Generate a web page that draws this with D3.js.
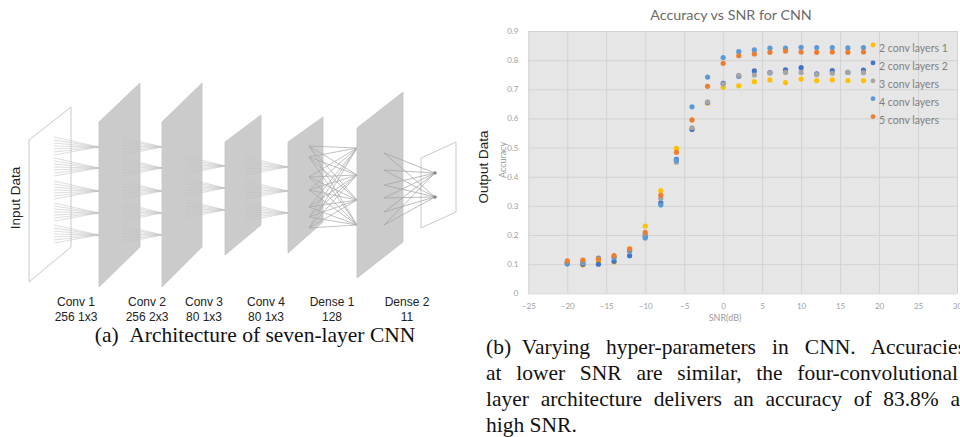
<!DOCTYPE html>
<html>
<head>
<meta charset="utf-8">
<script src="https://cdn.jsdelivr.net/npm/d3@7"></script>
<style>
  body { margin: 0; background: #fff; }
  svg { display: block; }
</style>
</head>
<body>
<svg id="fig" width="960" height="437"></svg>
<script>
// ---- data: accuracy vs SNR ----
const snr = [-20, -18, -16, -14, -12, -10, -8, -6, -4, -2, 0, 2, 4, 6, 8, 10, 12, 14, 16, 18];
const conv2a = [0.105, 0.097, 0.110, 0.107, 0.153, 0.231, 0.352, 0.497, 0.565, 0.652, 0.707, 0.712, 0.726, 0.732, 0.723, 0.735, 0.730, 0.732, 0.730, 0.730];
const conv2b = [0.101, 0.100, 0.100, 0.110, 0.129, 0.195, 0.310, 0.460, 0.562, 0.655, 0.720, 0.745, 0.763, 0.757, 0.767, 0.774, 0.753, 0.764, 0.758, 0.766];
const conv3 = [0.105, 0.105, 0.120, 0.125, 0.145, 0.203, 0.325, 0.450, 0.568, 0.656, 0.718, 0.748, 0.749, 0.756, 0.758, 0.758, 0.750, 0.755, 0.758, 0.757];
const conv4 = [0.104, 0.108, 0.121, 0.122, 0.145, 0.190, 0.303, 0.456, 0.640, 0.742, 0.809, 0.829, 0.835, 0.841, 0.841, 0.844, 0.843, 0.843, 0.842, 0.843];
const conv5 = [0.111, 0.114, 0.117, 0.129, 0.152, 0.209, 0.336, 0.484, 0.595, 0.710, 0.789, 0.815, 0.821, 0.827, 0.831, 0.828, 0.827, 0.828, 0.827, 0.828];
const seriesNames = ['2 conv layers 1', '2 conv layers 2', '3 conv layers', '4 conv layers', '5 conv layers'];
const xTicks = [-25, -20, -15, -10, -5, 0, 5, 10, 15, 20, 25, 30];
const yTicks = [0, 0.1, 0.2, 0.3, 0.4, 0.5, 0.6, 0.7, 0.8, 0.9];

// ---- data: layer labels of the architecture diagram ----
const layerNames = ['Conv 1', 'Conv 2', 'Conv 3', 'Conv 4', 'Dense 1', 'Dense 2'];
const layerSizes = ['256 1x3', '256 2x3', '80 1x3', '80 1x3', '128', '11'];

const svg = d3.select('#fig');
const sansFont = 'Liberation Sans, Arial, sans-serif';
const serifFont = 'Liberation Serif, Times New Roman, serif';

// ================= (a) architecture diagram =================
const diag = svg.append('g');

// panel geometry: left x, right x, left top/bottom, right top/bottom
const panels = [
  { x0: 29, x1: 71, lt: 140, lb: 282, rt: 107, rb: 247, fill: '#fff' },
  { x0: 99, x1: 140, lt: 122, lb: 287, rt: 83, rb: 247, fill: '#cbcbcb' },
  { x0: 162, x1: 202, lt: 122, lb: 287, rt: 83, rb: 247, fill: '#cbcbcb' },
  { x0: 225, x1: 261, lt: 142, lb: 255, rt: 115, rb: 225, fill: '#cbcbcb' },
  { x0: 288, x1: 323, lt: 142, lb: 253, rt: 117, rb: 222, fill: '#cbcbcb' },
  { x0: 357, x1: 403, lt: 128, lb: 278, rt: 92, rb: 242, fill: '#cbcbcb' },
  { x0: 421, x1: 456, lt: 158, lb: 228, rt: 142, rb: 212, fill: '#fff' }
];

const panelPath = p => `M${p.x0},${p.lt}L${p.x1},${p.rt}L${p.x1},${p.rb}L${p.x0},${p.lb}Z`;
const drawPanel = p => diag.append('path')
  .attr('d', panelPath(p))
  .attr('fill', p.fill)
  .attr('stroke', p.fill === '#fff' ? '#bdbdbd' : '#c4c4c4')
  .attr('stroke-width', 0.8);

const fanOffsets = [-10, -7, -4, -1, 2, 5, 8];
const drawFan = (sx, tx, targets) => {
  targets.forEach(ty => {
    fanOffsets.forEach(o => {
      diag.append('line')
        .attr('x1', sx).attr('y1', ty + o)
        .attr('x2', tx).attr('y2', ty)
        .attr('stroke', '#c0c0c0')
        .attr('stroke-width', 0.55);
    });
  });
};
const drawFull = (sx, sys, tx, tys, col) => {
  sys.forEach(sy => tys.forEach(ty => {
    diag.append('line')
      .attr('x1', sx).attr('y1', sy)
      .attr('x2', tx).attr('y2', ty)
      .attr('stroke', col)
      .attr('stroke-width', 0.7);
  }));
};

drawPanel(panels[0]);
drawFan(54, 99, [147, 168, 191, 213, 235]);
drawPanel(panels[1]);
drawFan(122, 162, [147, 168, 191, 213, 235]);
drawPanel(panels[2]);
drawFan(185, 225, [166, 188, 210]);
drawPanel(panels[3]);
drawFan(245, 288, [167, 191, 213]);
drawPanel(panels[4]);
drawFull(309, [146, 157, 177, 190, 207, 217, 228], 357, [148, 175, 200, 225], '#a8a8a8');
drawPanel(panels[5]);
drawPanel(panels[6]);
drawFull(384, [153, 170, 185, 198, 212, 225], 435, [173, 197], '#a0a0a0');
[173, 197].forEach(y => diag.append('circle')
  .attr('cx', 435).attr('cy', y).attr('r', 1.8).attr('fill', '#8a8a8a'));

diag.append('text')
  .attr('transform', 'translate(20,198) rotate(-90)')
  .attr('text-anchor', 'middle')
  .style('font-family', sansFont)
  .style('font-size', '13.5px')
  .attr('fill', '#222')
  .text('Input Data');

diag.append('text')
  .attr('transform', 'translate(488,167) rotate(-90)')
  .attr('text-anchor', 'middle')
  .style('font-family', sansFont)
  .style('font-size', '13.5px')
  .attr('fill', '#222')
  .text('Output Data');

const labelX = [76, 147, 204, 266, 332, 407];
layerNames.forEach((name, i) => {
  const t = diag.append('text')
    .attr('text-anchor', 'middle')
    .style('font-family', sansFont)
    .style('font-size', '12px')
    .attr('fill', '#222');
  t.append('tspan').attr('x', labelX[i]).attr('y', 306).text(name);
  t.append('tspan').attr('x', labelX[i]).attr('y', 320.5).text(layerSizes[i]);
});

svg.append('text')
  .attr('x', 255).attr('y', 342)
  .attr('text-anchor', 'middle')
  .style('font-family', serifFont)
  .style('font-size', '21.5px')
  .attr('fill', '#111')
  .text('(a)\u2002Architecture of seven-layer CNN');

// ================= (b) scatter chart =================
const x = d3.scaleLinear().domain([-25, 30]).range([528.3, 957]);
const y = d3.scaleLinear().domain([0, 0.9]).range([293.3, 31]);
const chartFont = 'Lato, "Open Sans", sans-serif';

const chart = svg.append('g');
chart.append('rect')
  .attr('x', x(-25)).attr('y', y(0.9))
  .attr('width', x(30) - x(-25)).attr('height', y(0) - y(0.9))
  .attr('fill', '#e7e6e7');

chart.append('g')
  .attr('transform', `translate(0,${y(0)})`)
  .call(d3.axisBottom(x).tickValues(xTicks).tickSize(-(y(0) - y(0.9))).tickFormat(''))
  .call(g => g.select('.domain').remove())
  .call(g => g.selectAll('line').attr('stroke', '#d3d3d3'));

chart.append('g')
  .attr('transform', `translate(${x(-25)},0)`)
  .call(d3.axisLeft(y).tickValues(yTicks).tickSize(-(x(30) - x(-25))).tickFormat(''))
  .call(g => g.select('.domain').remove())
  .call(g => g.selectAll('line').attr('stroke', '#d3d3d3'));

chart.append('g')
  .attr('transform', `translate(0,${y(0) + 7})`)
  .call(d3.axisBottom(x).tickValues(xTicks).tickSize(0).tickFormat(d3.format('d')))
  .call(g => g.select('.domain').remove())
  .call(g => g.selectAll('text')
    .style('font-family', chartFont).style('font-size', '8px').attr('fill', '#a0a0a0'));

chart.append('g')
  .attr('transform', `translate(${x(-25) - 7},0)`)
  .call(d3.axisLeft(y).tickValues(yTicks).tickSize(0).tickFormat(d => d === 0 ? '0' : d3.format('.1f')(d)))
  .call(g => g.select('.domain').remove())
  .call(g => g.selectAll('text')
    .style('font-family', chartFont).style('font-size', '8px').attr('fill', '#a0a0a0'));

chart.append('text')
  .attr('x', 731).attr('y', 20)
  .attr('text-anchor', 'middle')
  .style('font-family', chartFont).style('font-size', '14.3px')
  .attr('fill', '#6b6b6b')
  .text('Accuracy vs SNR for CNN');

chart.append('text')
  .attr('x', 725).attr('y', 321)
  .attr('text-anchor', 'middle')
  .style('font-family', chartFont).style('font-size', '9px')
  .attr('fill', '#9a9a9a')
  .text('SNR(dB)');

chart.append('text')
  .attr('transform', 'translate(506,160) rotate(-90)')
  .attr('text-anchor', 'middle')
  .style('font-family', chartFont).style('font-size', '9px')
  .attr('fill', '#9a9a9a')
  .text('Accuracy');

const colors = ['#FFC000', '#4472C4', '#A5A5A5', '#5B9BD5', '#ED7D31'];
const allSeries = [conv2a, conv2b, conv3, conv4, conv5];

allSeries.forEach((vals, si) => {
  chart.append('g').selectAll('circle')
    .data(vals)
    .enter().append('circle')
    .attr('cx', (d, i) => x(snr[i]))
    .attr('cy', d => y(d))
    .attr('r', 2.6)
    .attr('fill', colors[si]);
});

const legend = chart.append('g').attr('transform', 'translate(873,45)');
seriesNames.forEach((name, i) => {
  const row = legend.append('g').attr('transform', `translate(0,${i * 17.9})`);
  row.append('circle').attr('cx', 0).attr('cy', 0).attr('r', 2.4).attr('fill', colors[i]);
  row.append('text')
    .attr('x', 6).attr('y', 7)
    .style('font-family', chartFont).style('font-size', '10.5px')
    .attr('fill', '#7f7f7f')
    .text(name);
});

// caption (b), justified; the column runs a little past the right edge
const capLines = [
  { text: '(b)\u2002Varying hyper-parameters in CNN. Accuracies', right: 966 },
  { text: 'at lower SNR are similar, the four-convolutional', right: 958 },
  { text: 'layer architecture delivers an accuracy of 83.8% at', right: 966 },
  { text: 'high SNR.', right: null }
];
capLines.forEach((ln, i) => {
  const t = svg.append('text')
    .attr('x', 486).attr('y', 353.5 + i * 26.2)
    .style('font-family', serifFont)
    .style('font-size', '21.5px')
    .attr('fill', '#111')
    .text(ln.text);
  if (ln.right) {
    const len = t.node().getComputedTextLength();
    const spaces = (ln.text.match(/ /g) || []).length;
    if (spaces) t.style('word-spacing', ((ln.right - 486 - len) / spaces) + 'px');
  }
});
</script>
</body>
</html>
